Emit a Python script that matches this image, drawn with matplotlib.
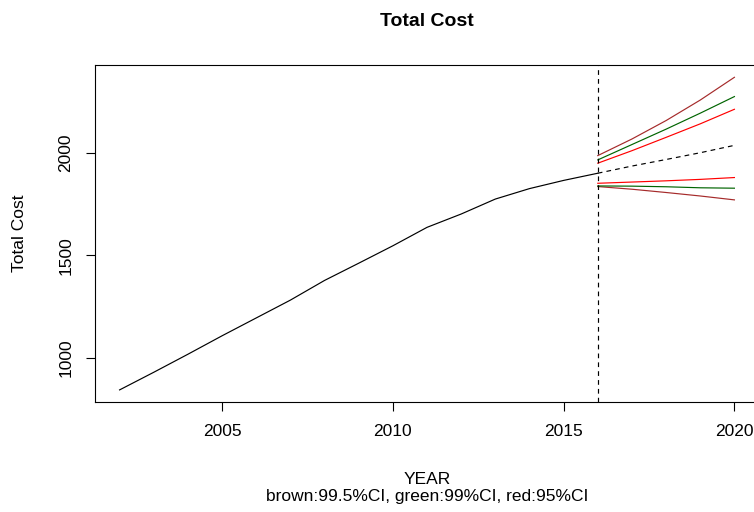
import matplotlib
matplotlib.use("Agg")
import matplotlib.pyplot as plt

plt.rcParams["font.family"] = ["Liberation Sans", "DejaVu Sans"]

# observed series
years = [2002, 2003, 2004, 2005, 2006, 2007, 2008, 2009, 2010, 2011, 2012, 2013, 2014, 2015, 2016]
cost = [844, 930, 1018, 1108, 1195, 1282, 1378, 1462, 1547, 1637, 1702, 1775, 1826, 1866, 1901]

# forecast and interval bounds
fc_years = [2016, 2017, 2018, 2019, 2020]
fc_mean = [1901, 1936, 1968, 2001, 2037]
up995 = [1987, 2068, 2158, 2258, 2369]
lo995 = [1836, 1823, 1807, 1790, 1771]
up99 = [1966, 2041, 2116, 2194, 2275]
lo99 = [1839, 1838, 1835, 1830, 1828]
up95 = [1950, 2011, 2076, 2142, 2213]
lo95 = [1852, 1858, 1864, 1871, 1880]

cut_year = 2016
xticks = [2005, 2010, 2015, 2020]
yticks = [1000, 1500, 2000]

fig = plt.figure(figsize=(7.54, 5.12), dpi=100)
ax = fig.add_axes([95 / 754, 1 - 402 / 512, (759 - 95) / 754, (402 - 65) / 512])

lw = 0.85
ax.plot(years, cost, color="black", lw=lw)
ax.plot(fc_years, fc_mean, color="black", lw=lw, dashes=(4, 3.5))
ax.plot(fc_years, up995, color="#A52A2A", lw=lw)
ax.plot(fc_years, lo995, color="#A52A2A", lw=lw)
ax.plot(fc_years, up99, color="#006400", lw=lw)
ax.plot(fc_years, lo99, color="#006400", lw=lw)
ax.plot(fc_years, up95, color="#FF0000", lw=lw)
ax.plot(fc_years, lo95, color="#FF0000", lw=lw)
ax.axvline(cut_year, color="black", lw=lw, dashes=(4, 3.5))

ax.set_xlim(2001.28, 2020.72)
ax.set_ylim(785, 2429)
ax.set_xticks(xticks)
ax.set_yticks(yticks)
ax.tick_params(axis="x", direction="out", length=6.5, width=0.8, pad=9, labelsize=12.5)
ax.tick_params(axis="y", direction="out", length=6.5, width=0.8, pad=9, labelsize=12.5)
for lab in ax.get_yticklabels():
    lab.set_rotation(90)
    lab.set_va("center")
for sp in ax.spines.values():
    sp.set_linewidth(0.8)

fig.text(427 / 754, 1 - 22 / 512, "Total Cost", ha="center", va="center",
         fontsize=14, fontweight="bold")
fig.text(20 / 754, 1 - 233 / 512, "Total Cost", ha="center", va="center",
         rotation=90, fontsize=12.5)
fig.text(427 / 754, 1 - 480 / 512, "YEAR", ha="center", va="center", fontsize=12.5)
fig.text(427 / 754, 1 - 497 / 512, "brown:99.5%CI, green:99%CI, red:95%CI",
         ha="center", va="center", fontsize=12.5)

fig.savefig("out.png", dpi=100)
